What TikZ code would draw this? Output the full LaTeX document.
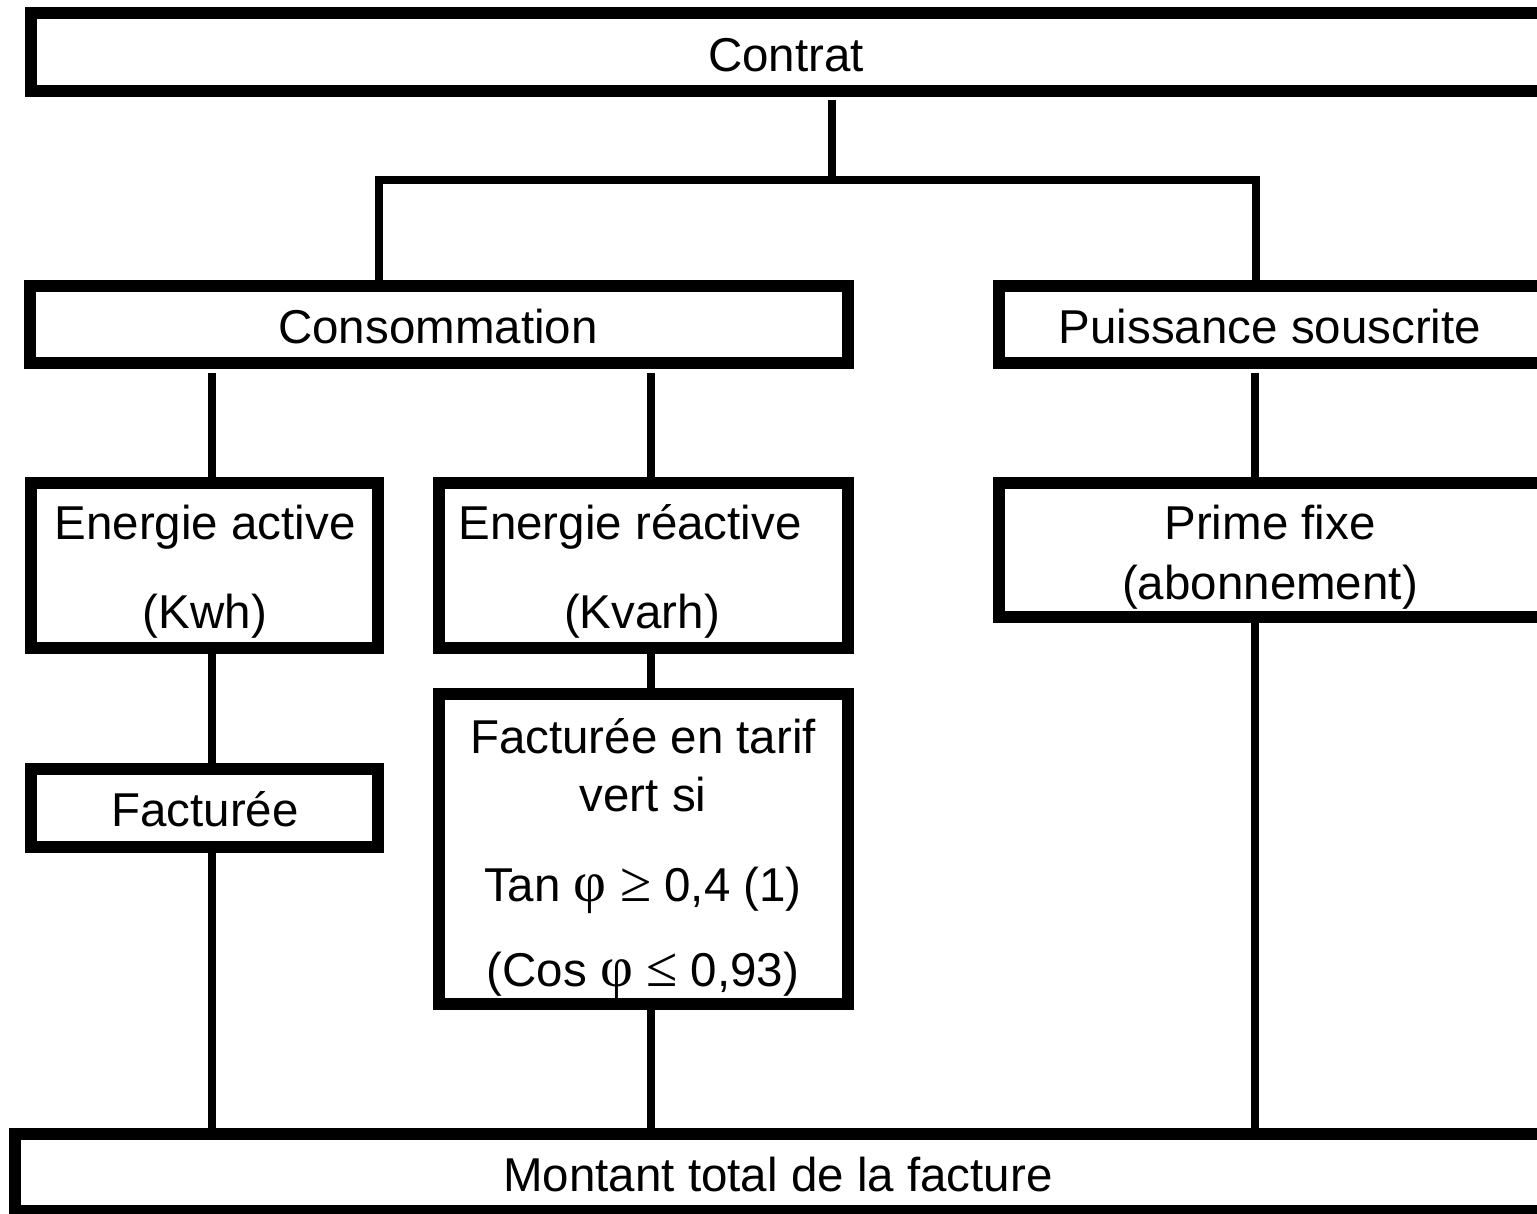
\documentclass[tikz,border=0pt]{standalone}
\usepackage{fontspec}
\setmainfont{Liberation Sans}
\newfontfamily\grk[Scale=1.2]{Liberation Serif}
\begin{document}
\begin{tikzpicture}[x=1pt,y=-1pt,
  box/.style={draw=black, line width=12pt, inner sep=0pt, fill=white},
  txt/.style={anchor=base, inner sep=0pt, font=\fontsize{47.5}{56}\selectfont},
  conn/.style={draw=black, line width=8pt, line join=miter}]
\clip (0,0) rectangle (1537,1213);
\fill[white] (0,0) rectangle (1537,1213);
% boxes
\node[box, minimum width=1512pt, minimum height=78pt] (contrat) at (787,52) {};
\node[box, minimum width=818pt, minimum height=77pt] (conso) at (439,324.5) {};
\node[box, minimum width=544pt, minimum height=77pt] (puiss) at (1271,324.5) {};
\node[box, minimum width=347pt, minimum height=165pt] (eact) at (204.5,565.5) {};
\node[box, minimum width=409pt, minimum height=165pt] (ereact) at (643.5,565.5) {};
\node[box, minimum width=544pt, minimum height=134pt] (prime) at (1271,550) {};
\node[box, minimum width=347pt, minimum height=78pt] (fact) at (204.5,808) {};
\node[box, minimum width=409pt, minimum height=310pt] (tarif) at (643.5,849) {};
\node[box, minimum width=1528pt, minimum height=77pt] (montant) at (779,1172.5) {};
% texts
\node[txt] (tcontrat) at (786,71) {Contrat};
\node[txt] (tconso) at (438,343) {Consommation};
\node[txt] (tpuiss) at (1270,343) {Puissance souscrite};
\node[txt] (teact1) at (205,539) {Energie active};
\node[txt] (teact2) at (205,628) {(Kwh)};
\node[txt] (tereact1) at (630,539) {Energie réactive};
\node[txt] (tereact2) at (642,628) {(Kvarh)};
\node[txt] (tprime1) at (1270,539) {Prime fixe};
\node[txt] (tprime2) at (1270,599) {(abonnement)};
\node[txt] (tfact) at (205,826) {Facturée};
\node[txt] (ttarif1) at (643,753) {Facturée en tarif};
\node[txt] (ttarif2) at (643,811) {vert si};
\node[txt] (ttarif3) at (643,901) {Tan {\grk φ} {\grk ≥} 0,4 (1)};
\node[txt] (ttarif4) at (643,986) {(Cos {\grk φ} {\grk ≤} 0,93)};
\node[txt] (tmontant) at (778,1191) {Montant total de la facture};
% connector coordinates
\coordinate (j) at (832,180);
\coordinate (jl) at (379,180);
\coordinate (jr) at (1256,180);
\coordinate (ca) at (212,0);
\coordinate (cr) at (651,0);
\coordinate (cp) at (1255,0);
% connectors
\draw[conn] (contrat.south -| j) ++(0,3) -- (j);
\draw[conn] (conso.north -| jl) -- (jl) -- (jr) -- (puiss.north -| jr);
\draw[conn] (conso.south -| ca) ++(0,4) -- (eact.north -| ca);
\draw[conn] (conso.south -| cr) ++(0,4) -- (ereact.north -| cr);
\draw[conn] (puiss.south -| cp) ++(0,4) -- (prime.north -| cp);
\draw[conn] (eact.south -| ca) -- (fact.north -| ca);
\draw[conn] (ereact.south -| cr) -- (tarif.north -| cr);
\draw[conn] (fact.south -| ca) -- (montant.north -| ca);
\draw[conn] (tarif.south -| cr) -- (montant.north -| cr);
\draw[conn] (prime.south -| cp) -- (montant.north -| cp);
\end{tikzpicture}
\end{document}
